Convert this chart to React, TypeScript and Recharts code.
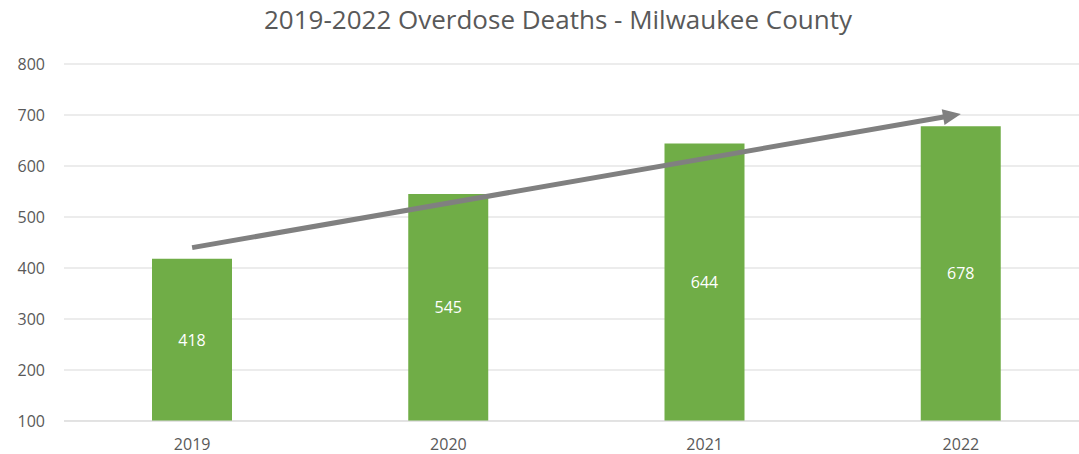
import React from "react";
import { BarChart, Bar, XAxis, YAxis, CartesianGrid, LabelList, ReferenceLine } from "recharts";

const years = ["2019", "2020", "2021", "2022"];
const deaths = [418, 545, 644, 678];
const yTicks = [100, 200, 300, 400, 500, 600, 700, 800];
const trendStart = { year: "2019", value: 440 };
const trendEnd = { year: "2022", value: 702 };

const data = years.map((y, i) => ({ year: y, deaths: deaths[i] }));

const Arrow = (props: any) => {
  const { x1, y1, x2, y2 } = props;
  const dx = x2 - x1;
  const dy = y2 - y1;
  const len = Math.sqrt(dx * dx + dy * dy);
  const ux = dx / len;
  const uy = dy / len;
  const headLen = 18;
  const headW = 8;
  const bx = x2 - ux * headLen;
  const by = y2 - uy * headLen;
  const px = -uy;
  const py = ux;
  return (
    <g>
      <line x1={x1} y1={y1} x2={bx + ux * 2} y2={by + uy * 2} stroke="#808080" strokeWidth={5} />
      <polygon
        points={`${x2},${y2} ${bx + px * headW},${by + py * headW} ${bx - px * headW},${by - py * headW}`}
        fill="#808080"
      />
    </g>
  );
};

const font = "'Open Sans', sans-serif";

export default function App() {
  return (
    <div style={{ position: "absolute", left: 0, top: 0, width: 1079, height: 454, overflow: "hidden", background: "#fff" }}>
      <div
        style={{
          position: "absolute",
          left: 558,
          top: 1,
          transform: "translateX(-50%)",
          whiteSpace: "nowrap",
          fontFamily: font,
          fontSize: 26,
          color: "#595959",
          lineHeight: "36px",
        }}
      >
        2019-2022 Overdose Deaths - Milwaukee County
      </div>
      <BarChart
        width={1089}
        height={454}
        data={data}
        margin={{ top: 64, right: 0, bottom: 3, left: 0 }}
        barSize={80}
      >
        <CartesianGrid vertical={false} stroke="#d9d9d9" />
        <XAxis
          dataKey="year"
          height={30}
          tickLine={false}
          tickSize={0}
          tickMargin={18}
          axisLine={{ stroke: "#d9d9d9" }}
          tick={{ fill: "#595959", fontSize: 16, fontFamily: font }}
        />
        <YAxis
          width={64}
          domain={[100, 800]}
          ticks={yTicks}
          axisLine={false}
          tickLine={false}
          tickSize={0}
          tickMargin={19}
          tick={{ fill: "#595959", fontSize: 16, fontFamily: font }}
        />
        <Bar dataKey="deaths" fill="#70ad47" isAnimationActive={false}>
          <LabelList
            dataKey="deaths"
            position="center"
            fill="#ffffff"
            style={{ fontSize: 16, fontFamily: font }}
          />
        </Bar>
        <ReferenceLine
          segment={[
            { x: trendStart.year, y: trendStart.value },
            { x: trendEnd.year, y: trendEnd.value },
          ]}
          shape={Arrow}
          ifOverflow="visible"
        />
      </BarChart>
    </div>
  );
}
